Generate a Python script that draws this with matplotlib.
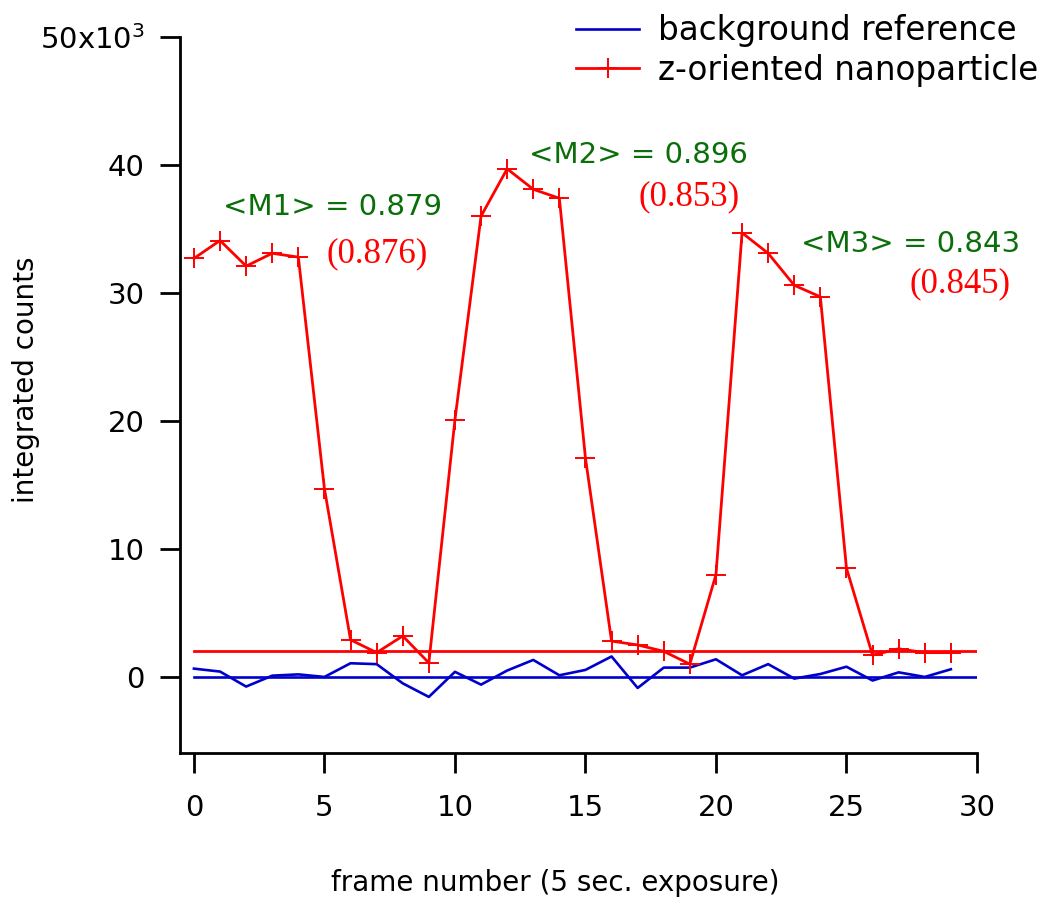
import matplotlib
matplotlib.use("Agg")
import matplotlib.pyplot as plt
import numpy as np

# integrated counts per frame, in units of 10^3
frames = np.arange(30)
particle = [32.7, 34.1, 32.1, 33.1, 32.8, 14.7, 2.9, 1.9, 3.2, 1.1,
            20.1, 36.0, 39.7, 38.1, 37.4, 17.1, 2.8, 2.5, 2.0, 1.0,
            8.0, 34.7, 33.1, 30.6, 29.7, 8.5, 1.7, 2.2, 1.9, 1.9]
background = [0.65, 0.42, -0.75, 0.1, 0.2, 0.0, 1.07, 1.0, -0.5, -1.56,
              0.4, -0.6, 0.5, 1.33, 0.13, 0.55, 1.6, -0.86, 0.73, 0.73,
              1.38, 0.13, 1.0, -0.13, 0.23, 0.8, -0.28, 0.36, 0.0, 0.6]
particle_level = 2.0
background_level = 0.0
level_span = [0, 30]

# modulation depths for the three bright windows (measured, fitted)
m_labels = ["<M1> = 0.879", "<M2> = 0.896", "<M3> = 0.843"]
m_pos = [(1.1, 36.1), (12.84, 40.16), (23.25, 33.2)]
fit_labels = ["(0.876)", "(0.853)", "(0.845)"]
fit_pos = [(5.06, 32.42), (17.05, 36.88), (27.43, 30.08)]

red = "#ff0000"
blue = "#0000cc"
green = "#0a6e0a"

fig = plt.figure(figsize=(10.45, 8.98), dpi=100)
ax = fig.add_axes([0.1722, 0.1615, 0.7627, 0.7973])

ax.plot(frames, background, color=blue, lw=1.9, label="background reference")
ax.plot(frames, particle, color=red, lw=2.0, marker="+", ms=15, mew=1.4,
        label="z-oriented nanoparticle")
ax.plot(level_span, [background_level] * 2, color=blue, lw=1.9)
ax.plot(level_span, [particle_level] * 2, color=red, lw=2.0)

for txt, (x, y) in zip(m_labels, m_pos):
    ax.text(x, y, txt, color=green, fontsize=21, va="baseline", ha="left")
for txt, (x, y) in zip(fit_labels, fit_pos):
    ax.text(x, y, txt, color=red, fontsize=25, va="baseline", ha="left",
            family="Liberation Serif")

ax.set_xlim(-0.536, 30)
ax.set_ylim(-5.94, 50)
ax.set_xticks(range(0, 31, 5))
yt = list(range(0, 51, 10))
ax.set_yticks(yt)
ax.set_yticklabels([str(v) for v in yt[:-1]] + [r"50x10$^{3}$"])

for s in ["top", "right"]:
    ax.spines[s].set_visible(False)
for s in ["left", "bottom"]:
    ax.spines[s].set_linewidth(2.0)
ax.tick_params(axis="both", direction="out", length=14.4, width=2.0,
               labelsize=21)
ax.tick_params(axis="x", pad=15)
ax.tick_params(axis="y", pad=11)

ax.set_xlabel("frame number (5 sec. exposure)", fontsize=20)
ax.set_ylabel("integrated counts", fontsize=20)
ax.xaxis.set_label_coords(0.4705, -0.162)
ax.yaxis.set_label_coords(-0.176, 0.521)

ax.legend(loc="upper right", bbox_to_anchor=(0.9933, 0.984),
          bbox_transform=fig.transFigure, frameon=False, fontsize=23.5,
          handlelength=1.94, handletextpad=0.56, labelspacing=0.2,
          borderpad=0, borderaxespad=0)

fig.savefig("out.png", dpi=100)
